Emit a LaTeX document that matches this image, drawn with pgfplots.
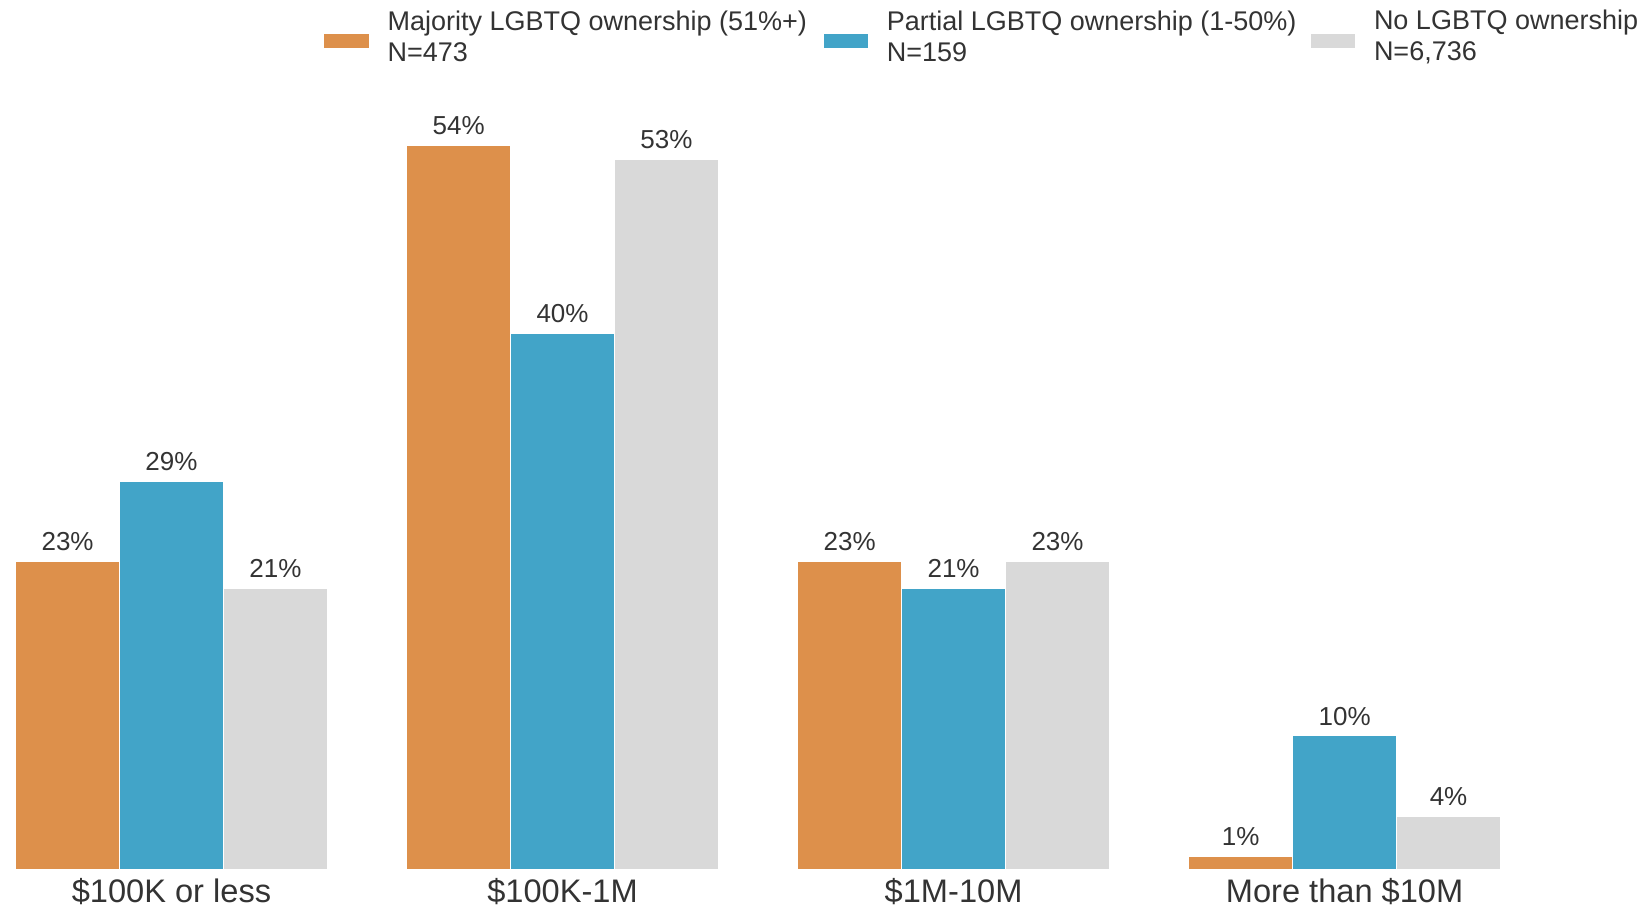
\documentclass[border=0pt]{standalone}
\usepackage{pgfplots}
\pgfplotsset{compat=1.18}
\usepackage{fontspec}
\setmainfont{Liberation Sans}
\usetikzlibrary{calc}
\definecolor{cOrange}{RGB}{221,144,75}
\definecolor{cBlue}{RGB}{66,164,200}
\definecolor{cGray}{RGB}{217,217,217}
\definecolor{txt}{RGB}{51,51,51}
\begin{document}
\begin{tikzpicture}
\begin{axis}[
  name=ax,
  scale only axis, width=825bp, height=402.3bp,
  xmin=-0.4386, xmax=3.781, ymin=0, ymax=60,
  axis line style={draw=none}, tick style={draw=none},
  /pgf/number format/assume math mode=true,
  ybar, bar width=0.2658,
  xtick={0,1,2,3},
  xticklabels={\$100K or less, \$100K-1M, \$1M-10M, More than \$10M},
  ytick=\empty,
  xticklabel style={font=\fontsize{16.3bp}{19bp}\selectfont, text=txt, inner sep=0pt, yshift=0.5bp},
  nodes near coords={\pgfmathprintnumber{\pgfplotspointmeta}\%},
  every node near coord/.append style={font=\fontsize{13bp}{15bp}\selectfont, text=txt, inner sep=0pt, yshift=5bp},
  legend columns=3,
  legend style={draw=none, fill=none, inner sep=0pt, at={(axis description cs:0.19636,1.0451)}, anchor=west,
    nodes={inner sep=0pt, text=txt, font=\fontsize{13.5bp}{15.5bp}\selectfont}, column sep=0pt},
  clip=false,
]
\addplot[fill=cOrange, draw=white, line width=0.6bp, bar shift=-0.2658,
  legend image code/.code={\fill[cOrange] (0bp,-9.45bp) rectangle (21.5bp,-2.95bp);}]
  coordinates {(0,23) (1,54) (2,23) (3,1)};
\addlegendentry{\hspace*{9.5bp}\parbox[c]{218bp}{\raggedright Majority LGBTQ ownership (51\%+)\\N=473}}
\addplot[fill=cBlue, draw=white, line width=0.6bp, bar shift=0,
  legend image code/.code={\fill[cBlue] (0bp,-9.45bp) rectangle (21.5bp,-2.95bp);}]
  coordinates {(0,29) (1,40) (2,21) (3,10)};
\addlegendentry{\hspace*{9.5bp}\parbox[c]{212bp}{\raggedright Partial LGBTQ ownership (1-50\%)\\N=159}}
\addplot[fill=cGray, draw=white, line width=0.6bp, bar shift=0.2658,
  legend image code/.code={\fill[cGray] (0bp,-9.45bp) rectangle (21.5bp,-2.95bp);}]
  coordinates {(0,21) (1,53) (2,23) (3,4)};
\addlegendentry{\hspace*{9.5bp}\parbox[c]{133bp}{\raggedright No LGBTQ ownership\\N=6,736}}
\end{axis}
\pgfresetboundingbox
\path ($(ax.south west)+(0,-19.5bp)$) rectangle ($(ax.north east)+(0,32.7bp)$);
\end{tikzpicture}
\end{document}
